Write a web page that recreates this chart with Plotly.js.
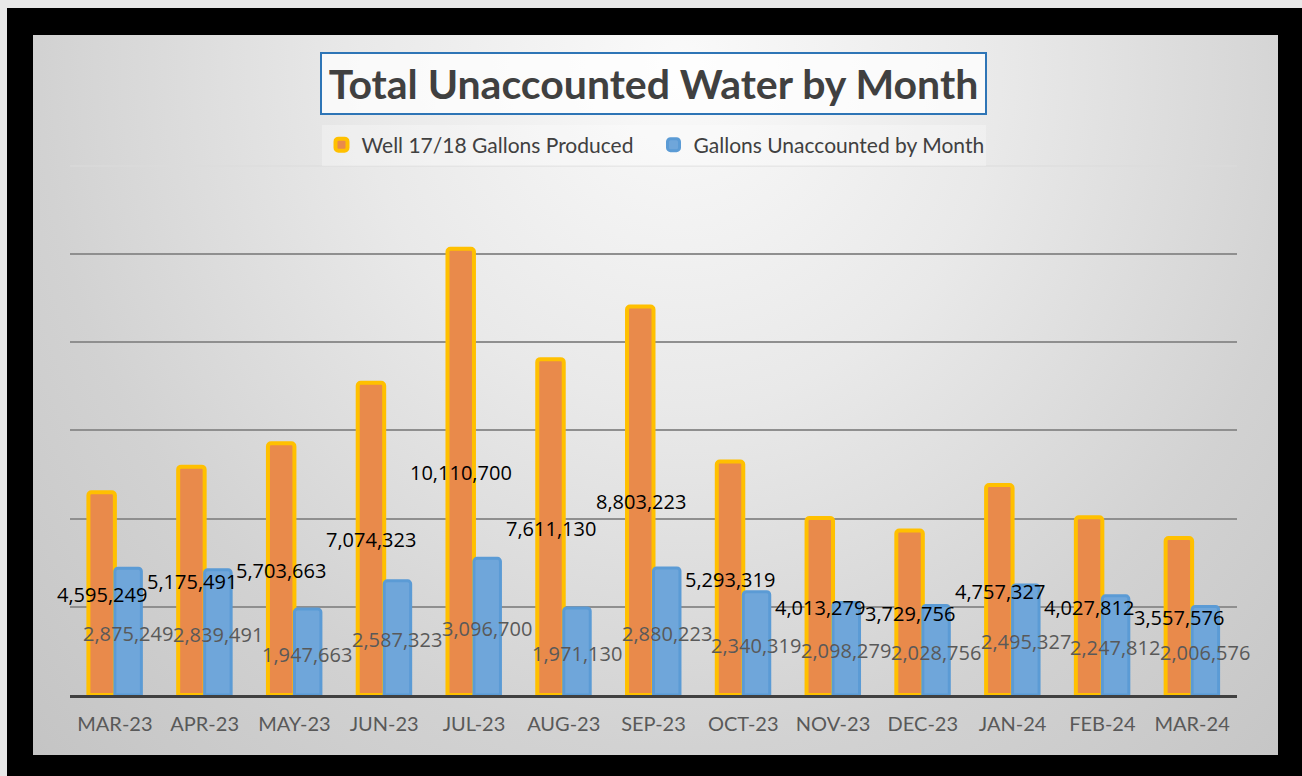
<!DOCTYPE html>
<html>
<head>
<meta charset="utf-8">
<script src="https://cdn.plot.ly/plotly-3.0.1.min.js"></script>
<style>
  html, body { margin: 0; padding: 0; width: 1302px; height: 776px; overflow: hidden; background: #e8e8e8; }
  #frame { position: absolute; left: 7px; top: 8px; width: 1295px; height: 768px; background: #000; }
  #panel { position: absolute; left: 33px; top: 35px; width: 1245px; height: 720px;
    background: radial-gradient(ellipse farthest-corner at 52% 4%, #fafafa 0%, #e9e9e9 35%, #d2d2d2 70%, #c4c4c4 100%); }
  #chart { position: absolute; left: 0; top: 0; width: 1302px; height: 776px; }
</style>
</head>
<body>
<div id="frame"></div>
<div id="panel"></div>
<div id="chart"></div>
<script>
const months = ["MAR-23","APR-23","MAY-23","JUN-23","JUL-23","AUG-23","SEP-23","OCT-23","NOV-23","DEC-23","JAN-24","FEB-24","MAR-24"];
const produced = [4595249, 5175491, 5703663, 7074323, 10110700, 7611130, 8803223, 5293319, 4013279, 3729756, 4757327, 4027812, 3557576];
const unaccounted = [2875249, 2839491, 1947663, 2587323, 3096700, 1971130, 2880223, 2340319, 2098279, 2028756, 2495327, 2247812, 2006576];
const seriesNames = ["Well 17/18 Gallons Produced", "Gallons Unaccounted by Month"];
const gridVals = [2000000, 4000000, 6000000, 8000000, 10000000];
const yMax = 12000000;

const fmt = v => v.toLocaleString('en-US');

const traces = [
  {
    type: 'bar', name: seriesNames[0], x: months, y: produced,
    marker: { color: '#e98a4b', line: { color: '#ffc000', width: 4 }, cornerradius: 3 },
    hoverinfo: 'skip'
  },
  {
    type: 'bar', name: seriesNames[1], x: months, y: unaccounted,
    marker: { color: '#6fa6da', line: { color: '#5b9bd5', width: 3 }, cornerradius: 3 },
    hoverinfo: 'skip'
  }
];

const annotations = [];
months.forEach((m, i) => {
  annotations.push({
    x: m, y: produced[i] / 2, xref: 'x', yref: 'y', text: fmt(produced[i]),
    showarrow: false, xshift: -13, yshift: -1,
    font: { family: 'Open Sans, sans-serif', size: 20, color: '#000000' }
  });
  annotations.push({
    x: m, y: unaccounted[i] / 2, xref: 'x', yref: 'y', text: fmt(unaccounted[i]),
    showarrow: false, xshift: 13, yshift: -2,
    font: { family: 'Open Sans, sans-serif', size: 20, color: '#595959' }
  });
});
annotations.push({
  text: 'Total Unaccounted Water by Month', xref: 'paper', yref: 'paper',
  x: 0.5, y: 1.154, xanchor: 'center', yanchor: 'middle', showarrow: false,
  font: { family: 'Lato, sans-serif', size: 41, color: '#404040', weight: 'bold' },
  bordercolor: '#2e75b6', borderwidth: 2, borderpad: 4, bgcolor: 'rgba(255,255,255,0.75)',
  width: 655, height: 51
});

const layout = {
  width: 1302, height: 776,
  paper_bgcolor: 'rgba(0,0,0,0)', plot_bgcolor: 'rgba(0,0,0,0)',
  margin: { l: 70, r: 65, t: 163, b: 81, pad: 0 },
  barmode: 'group', bargap: 0.41, bargroupgap: 0,
  showlegend: true,
  legend: {
    orientation: 'h', x: 0.5, xanchor: 'center', xref: 'paper',
    yref: 'container', y: 1 - 145 / 776, yanchor: 'middle',
    font: { family: 'Lato, sans-serif', size: 21, color: '#404040' },
    bgcolor: 'rgba(255,255,255,0.3)', itemwidth: 30, traceorder: 'normal',
    entrywidth: 287, entrywidthmode: 'pixels'
  },
  xaxis: {
    type: 'category', range: [-0.5, 12.5], autorange: false,
    showgrid: false, zeroline: false,
    showline: true, linecolor: '#404040', linewidth: 3,
    ticks: '', ticklabelstandoff: 9,
    tickfont: { family: 'Lato, sans-serif', size: 20, color: '#595959' }
  },
  yaxis: {
    range: [0, yMax], autorange: false, tickvals: gridVals, showticklabels: false,
    showgrid: true, gridcolor: '#8f8f8f', gridwidth: 2, zeroline: false, showline: false
  },
  shapes: [{
    type: 'line', xref: 'paper', yref: 'y', x0: 0, x1: 1, y0: yMax, y1: yMax,
    line: { color: '#dcdcdc', width: 2 }, layer: 'below'
  }],
  annotations: annotations
};

Plotly.newPlot('chart', traces, layout, { staticPlot: true, displayModeBar: false });
</script>
</body>
</html>
